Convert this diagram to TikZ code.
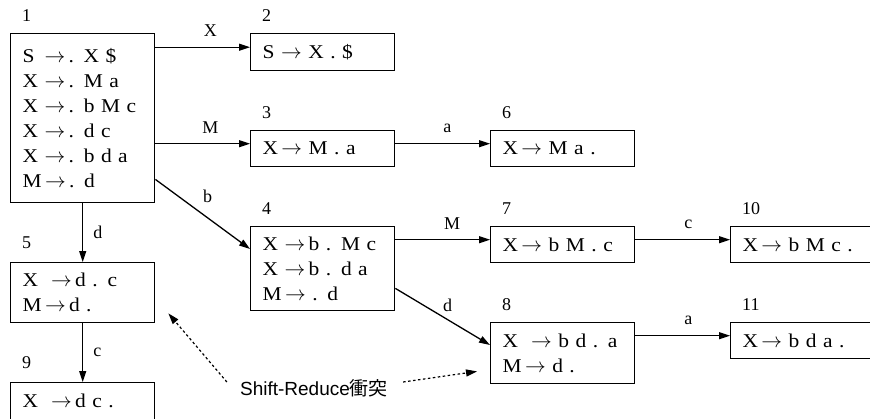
\documentclass[tikz,border=0pt]{standalone}
\usepackage{fontspec}
\setmainfont{Liberation Serif}
\newfontfamily\itemfont{Liberation Serif}[FakeStretch=1.1, WordSpace=0.8]
\newfontfamily\lsans{Liberation Sans}
\newfontfamily\cjk{Noto Sans CJK JP}
\usetikzlibrary{arrows.meta}
\newcommand{\ar}{$\rightarrow$}
\begin{document}
\begin{tikzpicture}[x=1pt,y=-1pt,
  state/.style={draw, line width=1.4pt, rectangle, anchor=north west,
    minimum width=144pt, text width=120pt, inner xsep=12pt, inner ysep=0pt,
    align=left, font=\itemfont\fontsize{19.5}{25}\selectfont},
  num/.style={anchor=west, inner sep=0pt, font=\fontsize{18}{18}\selectfont},
  lbl/.style={inner sep=0pt, font=\fontsize{18}{18}\selectfont},
  edge/.style={line width=1.3pt, -{Triangle[length=11pt,width=7pt]}},
  hint/.style={line width=1.2pt, dash pattern=on 2.5pt off 2.5pt, -{Triangle[length=11pt,width=7pt]}}]
\useasboundingbox (0,0) rectangle (870,418);
\clip (0,0) rectangle (870,418);

% item sets
\node[state, minimum height=169pt] (s1) at (10,33)
  {S\hspace{10pt}\ar\,. X \$\\X \ar\,. M a\\X \ar\,. b M c\\X \ar\,. d c\\X \ar\,. b d a\\M\,\ar\,. d};
\node[state, minimum height=37pt] (s2) at (250,33) {S \ar\ X . \$};
\node[state, minimum height=36pt] (s3) at (250,130) {X\,\ar\ M . a};
\node[state, minimum height=36pt] (s6) at (490,130) {X\,\ar\ M a .};
\node[state, minimum height=84pt] (s4) at (250,226)
  {X \ar\,b . M c\\X \ar\,b . d a\\M\,\ar\ . d};
\node[state, minimum height=36pt] (s7) at (490,226) {X\,\ar\ b M . c};
\node[state, minimum height=36pt] (s10) at (730,226) {X\,\ar\ b M c .};
\node[state, minimum height=61pt] (s8) at (490,322) {X \ \ar\ b d . a\\M\,\ar\ d .};
\node[state, minimum height=36pt] (s11) at (730,322) {X\,\ar\ b d a .};
\node[state, minimum height=60pt] (s5) at (10,262) {X \ \ar\,d . c\\M\,\ar\,d .};
\node[state, minimum height=37pt] (s9) at (10,382) {X \ \ar\,d c .};

% state numbers
\foreach \s/\n in {s1/1,s2/2,s3/3,s6/6,s4/4,s7/7,s10/10,s8/8,s11/11}
  \node[num] (n\n) at ([xshift=12pt,yshift=17pt]\s.north west) {\n};
\foreach \s/\n in {s5/5,s9/9}
  \node[num] (n\n) at ([xshift=12pt,yshift=19pt]\s.north west) {\n};

% entry points of horizontal transitions
\foreach \s in {s2,s3,s6,s7,s10,s11}
  \coordinate (in-\s) at ([yshift=5pt]\s.west);

% transitions
\draw[edge] (s1.east |- in-s2) -- (in-s2) node[lbl, pos=0.58, above=10pt] {X};
\draw[edge] (s1.east |- in-s3) -- (in-s3) node[lbl, pos=0.58, above=10pt] {M};
\draw[edge] (s3.east |- in-s6) -- (in-s6) node[lbl, pos=0.55, above=10pt] {a};
\draw[edge] (s4.east |- in-s7) -- (in-s7) node[lbl, pos=0.6, above=10pt] {M};
\draw[edge] (s7.east |- in-s10) -- (in-s10) node[lbl, pos=0.56, above=10pt] {c};
\draw[edge] (s8.east |- in-s11) -- (in-s11) node[lbl, pos=0.56, above=10pt] {a};
\draw[edge] ([yshift=24pt]s1.south east) -- ([yshift=-23pt]s4.north west)
  node[lbl, pos=0.5, xshift=5pt, yshift=18pt] {b};
\draw[edge] ([yshift=23pt]s4.south east) -- ([yshift=-23pt]s8.north west)
  node[lbl, pos=0.5, xshift=5pt, yshift=11pt] {d};
\draw[edge] (s1.south) -- (s5.north) node[lbl, midway, right=10pt] {d};
\draw[edge] (s5.south) -- (s9.north) node[lbl, midway, right=10pt] {c};

% conflict note
\node[inner sep=0pt, font=\fontsize{19}{19}\selectfont] (conf) at (314,388)
  {{\lsans Shift-Reduce}{\cjk 衝突}};
\draw[hint] ([xshift=-13pt,yshift=6pt]conf.west) -- ([xshift=13pt,yshift=10pt]s5.south east);
\draw[hint] ([xshift=15pt,yshift=6pt]conf.east) -- ([xshift=-13pt,yshift=13pt]s8.south west);
\end{tikzpicture}
\end{document}
